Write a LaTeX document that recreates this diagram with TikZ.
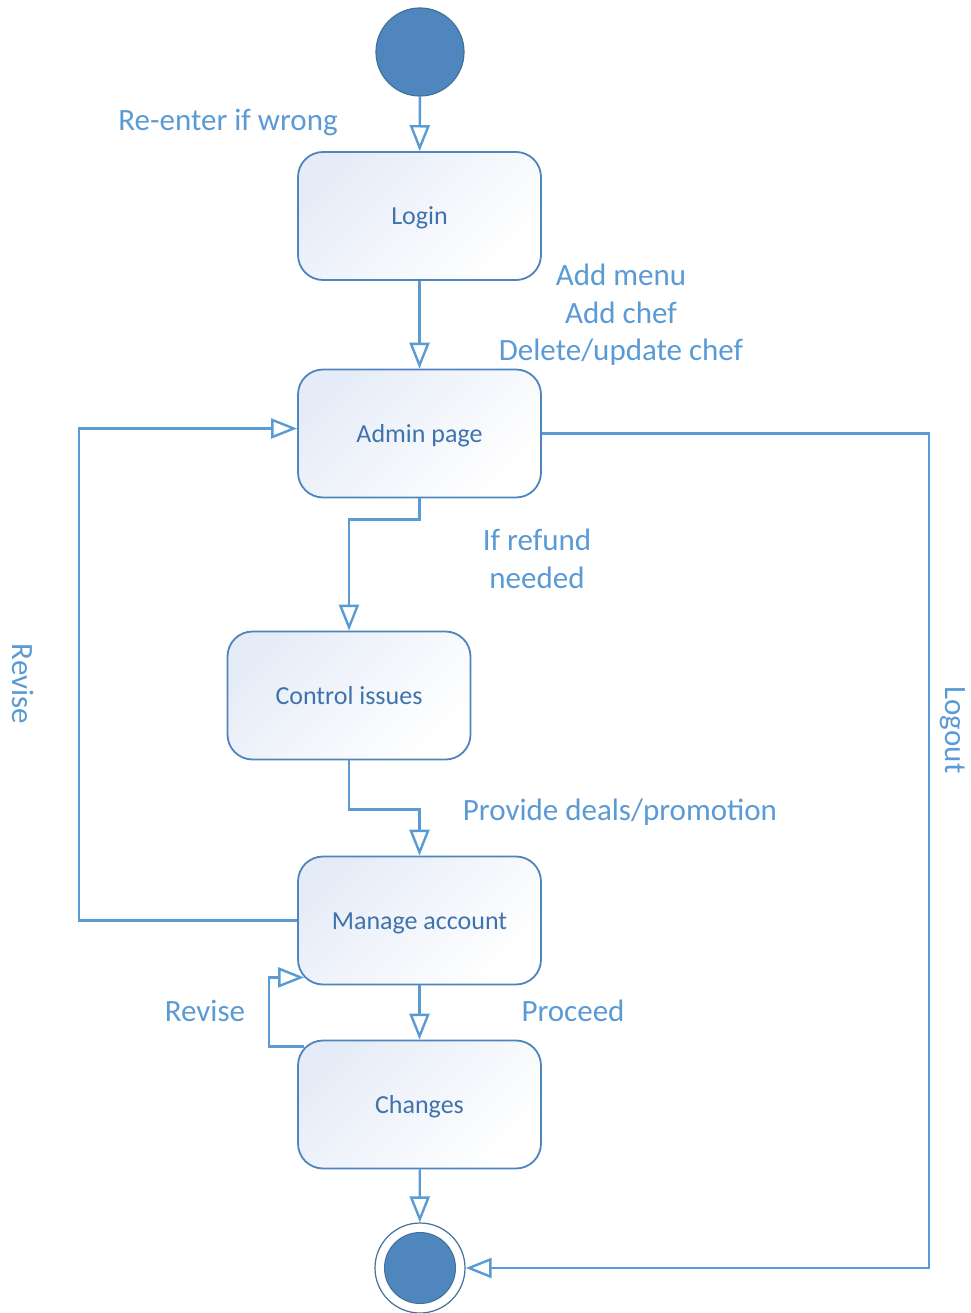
\documentclass[tikz,border=0pt]{standalone}
\usepackage{fontspec}
\setmainfont{Carlito}
\usetikzlibrary{arrows.meta,calc}
\definecolor{lineblue}{HTML}{5B9BD5}
\definecolor{boxborder}{HTML}{4F85BF}
\definecolor{boxtext}{HTML}{3E73AE}
\definecolor{boxfill}{HTML}{E6ECF7}
\definecolor{dotfill}{HTML}{4E86BD}
\definecolor{dotborder}{HTML}{41719C}
\tikzset{
  act/.style={draw=boxborder, line width=1.8pt, rounded corners=25pt,
    minimum width=243pt, minimum height=128pt, top color=boxfill, bottom color=white,
    shading angle=45, text=boxtext, font=\fontsize{26}{30}\selectfont, text height=24pt, text depth=6pt},
  arr/.style={draw=lineblue, line width=2.4pt,
    -{Triangle[open, length=26pt, width=20pt, line width=2.4pt]}},
  lbl/.style={text=lineblue, font=\fontsize{31}{37.5}\selectfont, align=center},
  startdot/.style={circle, fill=dotfill, draw=dotborder, line width=1.2pt, minimum size=88pt, inner sep=0pt},
}
\begin{document}
\begin{tikzpicture}[x=1pt,y=-1pt]
\useasboundingbox (0,0) rectangle (970,1313);
\fill[white] (0,0) rectangle (970,1313);

\node[startdot] (start) at (420,52) {};
\node[act] (login) at (419.5,216) {Login};
\node[act] (adm) at (419.5,433.5) {Admin page};
\node[act] (ctl) at (349,695.5) {Control issues};
\node[act] (man) at (419.5,920.5) {Manage account};
\node[act] (chg) at (419.5,1104.5) {Changes};
\node[circle, draw=dotborder, fill=white, line width=1.2pt, minimum size=90pt, inner sep=0pt] (end) at (420,1268) {};
\node[circle, fill=dotfill, draw=dotborder, line width=1pt, minimum size=71pt, inner sep=0pt] (endin) at (420,1268) {};

\draw[arr] (start) -- (login);
\draw[arr] (login) -- (adm);
\draw[arr] (adm.south) -- ++(0,21) -| (ctl.north);
\draw[arr] (ctl.south) -- ++(0,49) -| (man.north);
\draw[arr] (man.west) -- ++(-218,0) |- ([yshift=5pt]adm.west);
\draw[arr] (man) -- (chg);
\coordinate (rv1) at ([xshift=7pt,yshift=-7pt]chg.north west);
\coordinate (rv2) at ([xshift=7pt,yshift=8pt]man.south west);
\draw[arr] (rv1) -- ++(-35,0) |- (rv2);
\draw[arr] (chg) -- (end);
\draw[arr] (adm.east) -- ++(387,0) |- (end.east);

\node[lbl] (l1) at (228,123) {Re-enter if wrong};
\node[lbl] (l2) at (621,315) {Add menu\\Add chef\\Delete/update chef};
\node[lbl] (l3) at (537,559) {If refund\\needed};
\node[lbl] (l4) at (620,812) {Provide deals/promotion};
\node[lbl] (l5) at (205,1011) {Revise};
\node[lbl] (l6) at (573,1011) {Proceed};
\node[lbl, rotate=-90, inner sep=0pt] (l7) at (23,684) {Revise};
\node[lbl, rotate=-90, inner sep=0pt] (l8) at (953,730) {Logout};
\end{tikzpicture}
\end{document}
